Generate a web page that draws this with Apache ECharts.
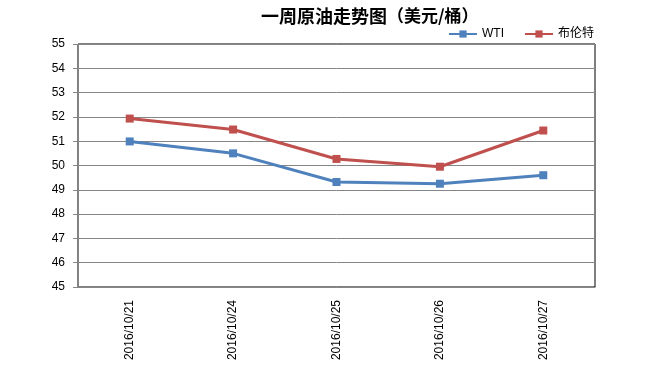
<!DOCTYPE html>
<html><head><meta charset="utf-8">
<script src="https://cdn.jsdelivr.net/npm/echarts@6/dist/echarts.min.js"></script>
<style>html,body{margin:0;padding:0;background:#fff}#c{width:650px;height:369px}</style>
</head><body><div id="c"></div>
<script>
const categories = ['2016/10/21','2016/10/24','2016/10/25','2016/10/26','2016/10/27'];
const wti = [50.99, 50.50, 49.32, 49.25, 49.60];
const brent = [51.93, 51.48, 50.27, 49.95, 51.44];
const yMin = 45, yMax = 55, yStep = 1;

const chart = echarts.init(document.getElementById('c'));
chart.setOption({
  animation: false,
  textStyle: { fontFamily: 'Liberation Sans, Arial, Noto Sans CJK SC, sans-serif' },
  title: {
    text: '{b|一周原油走势图}{n|（美元/桶）}',
    left: 256, top: 2,
    textStyle: {
      rich: {
        b: { fontSize: 18, fontWeight: 'bold', color: '#000', fontFamily: 'Noto Sans CJK SC' },
        n: { fontSize: 17, color: '#000', fontFamily: 'Noto Sans CJK SC' }
      }
    }
  },
  legend: {
    left: 443, top: 23,
    itemWidth: 28, itemHeight: 9, itemGap: 20,
    textStyle: { fontSize: 12, color: '#000', fontFamily: 'Liberation Sans, Noto Sans CJK SC' },
    data: ['WTI', '布伦特']
  },
  grid: { left: 78, right: 55, top: 44, bottom: 82, show: true, borderColor: '#000', borderWidth: 1 },
  xAxis: {
    type: 'category', data: categories, boundaryGap: true,
    axisLine: { lineStyle: { color: '#868686', width: 1 } },
    axisTick: { inside: true, length: 5, lineStyle: { color: '#868686' } },
    axisLabel: { rotate: 90, fontSize: 12, color: '#000', margin: 13 }
  },
  yAxis: {
    type: 'value', min: yMin, max: yMax, interval: yStep,
    axisLine: { show: true, lineStyle: { color: '#868686', width: 1 } },
    axisTick: { show: true, length: 5, lineStyle: { color: '#868686' } },
    axisLabel: { fontSize: 12, color: '#000', margin: 13 },
    splitLine: { lineStyle: { color: '#868686', width: 1 } }
  },
  series: [
    { name: 'WTI', type: 'line', data: wti, symbol: 'rect', symbolSize: 8,
      itemStyle: { color: '#4F81BD' }, lineStyle: { width: 3, color: '#4F81BD' } },
    { name: '布伦特', type: 'line', data: brent, symbol: 'rect', symbolSize: 8,
      itemStyle: { color: '#C0504D' }, lineStyle: { width: 3, color: '#C0504D' } }
  ]
});
</script></body></html>
